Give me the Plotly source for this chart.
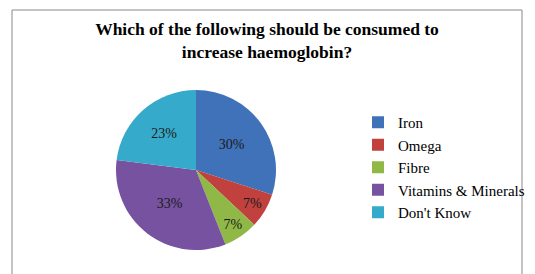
import plotly.graph_objects as go

labels = ["Iron", "Omega", "Fibre", "Vitamins & Minerals", "Don't Know"]
values = [30, 7, 7, 33, 23]
colors = ["#3f72b8", "#c0413d", "#8fb847", "#7652a0", "#36aacb"]

W, H = 535, 274
fig = go.Figure(go.Pie(
    labels=labels, values=values, sort=False, direction="clockwise", rotation=0,
    marker=dict(colors=colors, line=dict(color="white", width=0)),
    textinfo="percent", textposition="inside", insidetextorientation="horizontal",
    textfont=dict(family="Liberation Serif", size=14, color="#1a1a1a"),
    domain=dict(x=[116 / W, 276 / W], y=[(H - 250) / H, (H - 90) / H]),
))
fig.update_layout(
    width=W, height=H, margin=dict(l=0, r=0, t=0, b=0),
    paper_bgcolor="white", plot_bgcolor="white",
    title=dict(text="<b>Which of the following should be consumed to<br>increase haemoglobin?</b>",
               x=267 / W, xanchor="center", y=1 - 35 / H, yanchor="top",
               font=dict(family="Liberation Serif", size=17.5, color="black")),
    legend=dict(x=358 / W, y=1 - 106 / H, xanchor="left", yanchor="top",
                font=dict(family="Liberation Serif", size=15, color="black"),
                bgcolor="rgba(0,0,0,0)"),
    shapes=[dict(type="rect", xref="paper", yref="paper", x0=12 / W, x1=522 / W,
                 y0=-0.2, y1=1 - 10 / H, line=dict(color="#8a8a8a", width=1))],
)
fig.write_html("out.html", config={"displayModeBar": False},
               post_script="document.body.style.margin='0';")
